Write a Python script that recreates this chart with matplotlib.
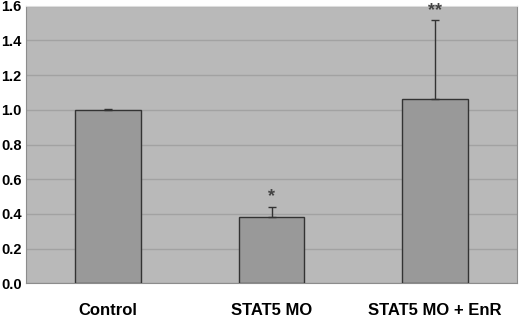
import matplotlib.pyplot as plt

# Dados
grupos = ['Control', 'STAT5 MO', 'STAT5 MO + EnR']
valores = [1.0, 0.38, 1.065]
erros = [0.005, 0.06, 0.45]
marcas = ['', '*', '**']

plt.rcParams['font.family'] = ['Liberation Sans', 'DejaVu Sans']

fig = plt.figure(figsize=(5.2, 3.19), dpi=100)
ax = fig.add_axes([26 / 520, 1 - 283.3 / 319, 491 / 520, 277.6 / 319])
ax.set_facecolor('#b9b9b9')

x = range(len(grupos))
ax.bar(x, valores, width=0.4, color='#999999', edgecolor='#333333', linewidth=1.0, zorder=3)
ax.errorbar(x, valores, yerr=[[0] * len(erros), erros], fmt='none', ecolor='#333333',
            elinewidth=1.0, capsize=3, capthick=1.0, zorder=4)

# Asteriscos de significância
for i, (v, e, m) in enumerate(zip(valores, erros, marcas)):
    if m:
        ax.text(i, v + e + 0.01, m, ha='center', va='bottom', fontsize=13,
                fontweight='bold', color='#444444', zorder=5)

ax.set_xlim(-0.5, 2.5)
ax.set_ylim(0, 1.6)
ax.set_yticks([0.0, 0.2, 0.4, 0.6, 0.8, 1.0, 1.2, 1.4, 1.6])
ax.set_yticklabels([f'{t:.1f}' for t in ax.get_yticks()], fontsize=10.5, fontweight='bold')
ax.set_xticks(list(x))
ax.set_xticklabels(grupos, fontsize=12, fontweight='bold')
ax.tick_params(axis='both', length=0)
ax.tick_params(axis='x', pad=14)
ax.tick_params(axis='y', pad=3)
ax.grid(axis='y', color='#a2a2a2', linewidth=1.0, zorder=0)

for lado in ['left', 'bottom', 'right']:
    ax.spines[lado].set_color('#8c8c8c')
ax.spines['top'].set_color('#dddddd')

fig.savefig('out.png', dpi=100)
